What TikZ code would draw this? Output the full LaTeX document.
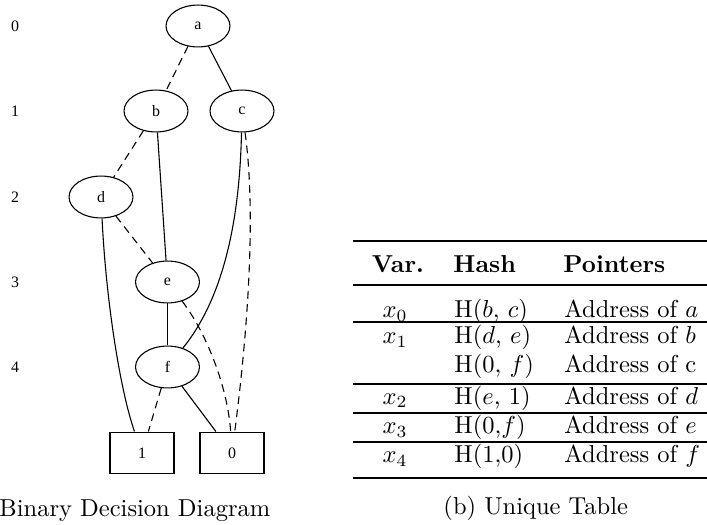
\documentclass[tikz,border=0pt]{standalone}
\usepackage{fontspec}
\newfontfamily\gvfont{Liberation Serif}
\usetikzlibrary{shapes.geometric}
\begin{document}
\begin{tikzpicture}[x=0.40816pt,y=-0.40816pt,
  gv/.style={font=\gvfont\fontsize{6.5}{7.5}\selectfont},
  bdd/.style={gv,ellipse,draw,line width=0.45pt,minimum width=26.1pt,minimum height=17.1pt,inner sep=0pt},
  term/.style={gv,rectangle,draw,line width=0.45pt,minimum width=26.1pt,minimum height=17.1pt,inner sep=0pt},
  hi/.style={line width=0.45pt},
  lo/.style={line width=0.45pt,dash pattern=on 3.2pt off 2.2pt},
  lvl/.style={gv,inner sep=0pt},
  cell/.style={inner sep=0pt,anchor=base west},
  vcell/.style={inner sep=0pt,anchor=base},
  thickrule/.style={line width=1.1pt},
  thinrule/.style={line width=0.8pt}]
\useasboundingbox (0,0) rectangle (707,525);
\clip (0,0) rectangle (707,525);

% level labels
\node[lvl] (l0) at (15,26) {0};
\node[lvl] (l1) at (15,111) {1};
\node[lvl] (l2) at (15,197) {2};
\node[lvl] (l3) at (15,282) {3};
\node[lvl] (l4) at (15,367) {4};

% BDD nodes
\node[bdd] (a) at (198,26) {a};
\node[bdd] (b) at (156,111) {b};
\node[bdd] (c) at (242,111) {c};
\node[bdd] (d) at (101,197) {d};
\node[bdd] (e) at (167.5,282) {e};
\node[bdd] (f) at (167.5,367) {f};
\node[term] (one) at (142,453) {1};
\node[term] (zero) at (232,453) {0};

% edges
\draw[lo] (a) -- (b);
\draw[hi] (a) -- (c);
\draw[lo] (b) -- (d);
\draw[hi] (b) -- (e);
\draw[hi] (c) .. controls (240,200) and (230,290) .. (f);
\draw[lo] (c) .. controls (258,225) and (244,360) .. (zero);
\draw[hi] (d) .. controls (106,300) and (120,390) .. (one);
\draw[lo] (d) -- (e);
\draw[hi] (e) -- (f);
\draw[lo] (e) .. controls (208,335) and (228,390) .. (zero);
\draw[lo] (f) -- (one);
\draw[hi] (f) -- (zero);

% table rules
\draw[thickrule] (353,241) -- (713,241);
\draw[thinrule] (353,285) -- (713,285);
\draw[thinrule] (353,322) -- (713,322);
\draw[thinrule] (353,384) -- (713,384);
\draw[thinrule] (353,413) -- (713,413);
\draw[thinrule] (353,442) -- (713,442);
\draw[thickrule] (353,478) -- (713,478);

% header
\node[vcell,font=\bfseries] (hv) at (398,273) {Var.};
\node[cell,font=\bfseries] (hh) at (453,273) {Hash};
\node[cell,font=\bfseries] (hp) at (563,273) {Pointers};

% rows
\node[vcell] (v0) at (395,318) {$x_0$};
\node[cell] (h0) at (454,318) {H($b$, $c$)};
\node[cell] (p0) at (564,318) {Address of $a$};

\node[vcell] (v1) at (395,344) {$x_1$};
\node[cell] (h1) at (454,344) {H($d$, $e$)};
\node[cell] (p1) at (564,344) {Address of $b$};

\node[cell] (h1b) at (454,373) {H(0, $f$)};
\node[cell] (p1b) at (564,373) {Address of c};

\node[vcell] (v2) at (395,404) {$x_2$};
\node[cell] (h2) at (454,404) {H($e$, 1)};
\node[cell] (p2) at (564,404) {Address of $d$};

\node[vcell] (v3) at (395,434) {$x_3$};
\node[cell] (h3) at (454,434) {H(0,$f$)};
\node[cell] (p3) at (564,434) {Address of $e$};

\node[vcell] (v4) at (395,463) {$x_4$};
\node[cell] (h4) at (454,463) {H(1,0)};
\node[cell] (p4) at (564,463) {Address of $f$};

% captions
\node[cell] (capa) at (-1,516) {Binary Decision Diagram};
\node[cell] (capb) at (443,515) {(b) Unique Table};
\end{tikzpicture}
\end{document}
